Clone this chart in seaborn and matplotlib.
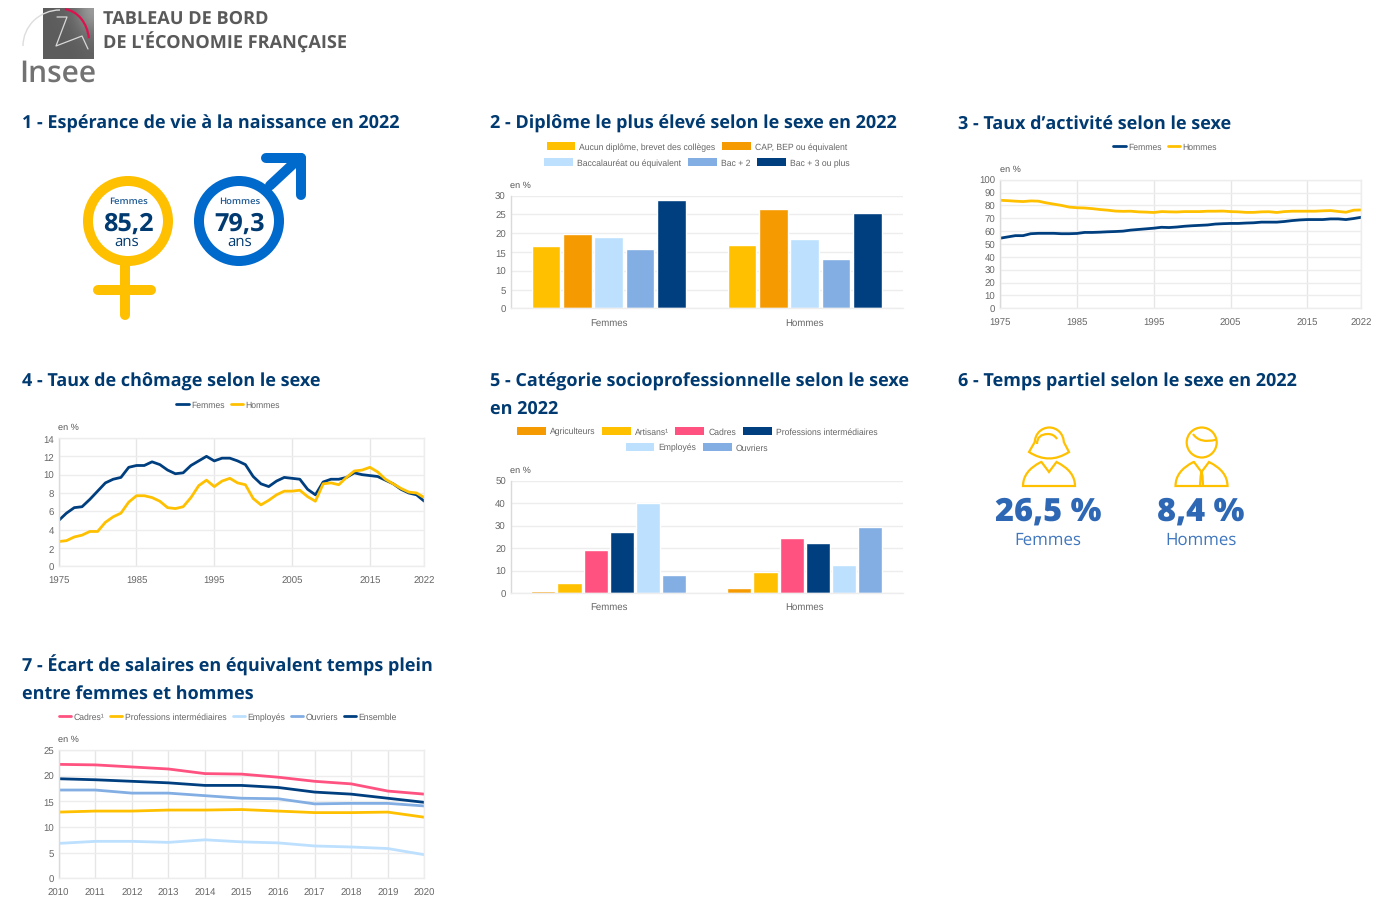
import numpy as np
import pandas as pd
import matplotlib
matplotlib.use("Agg")
import matplotlib.pyplot as plt
import seaborn as sns
from matplotlib.patches import Circle, PathPatch, Rectangle, Arc
from matplotlib.path import Path
from matplotlib.lines import Line2D

# ---------- data ----------
sexes = ["Femmes", "Hommes"]

dipl_labels = ["Aucun diplôme, brevet des collèges", "CAP, BEP ou équivalent",
               "Baccalauréat ou équivalent", "Bac + 2", "Bac + 3 ou plus"]
dipl_f = [16.5, 19.7, 19.0, 15.9, 28.8]
dipl_h = [16.8, 26.3, 18.4, 13.0, 25.3]

csp_labels = ["Agriculteurs", "Artisans¹", "Cadres", "Professions intermédiaires",
              "Employés", "Ouvriers"]
csp_f = [1.1, 4.5, 19.0, 27.3, 40.0, 8.2]
csp_h = [2.2, 9.2, 24.3, 22.1, 12.3, 29.4]

years_long = list(range(1975, 2023))
activ_f = [54.5, 55.5, 56.5, 56.5, 58.0, 58.3, 58.3, 58.3, 58.0, 58.0,
           58.2, 59.0, 59.0, 59.2, 59.5, 59.7, 60.0, 60.8, 61.3, 61.8,
           62.3, 63.0, 62.8, 63.2, 63.8, 64.2, 64.5, 64.8, 65.5, 65.8,
           66.0, 66.0, 66.3, 66.5, 67.0, 67.0, 67.0, 67.5, 68.2, 68.7,
           69.0, 69.0, 69.0, 69.5, 69.5, 69.0, 69.8, 70.8]
activ_h = [84.0, 83.7, 83.3, 83.0, 83.5, 83.3, 82.0, 81.0, 80.0, 78.7,
           78.2, 78.0, 77.5, 76.8, 76.3, 75.6, 75.4, 75.5, 75.0, 74.8,
           74.5, 75.2, 75.0, 74.9, 75.2, 75.2, 75.2, 75.5, 75.5, 75.6,
           75.2, 75.0, 74.6, 74.6, 75.0, 75.1, 74.5, 75.2, 75.5, 75.5,
           75.5, 75.5, 75.8, 76.0, 75.3, 74.7, 76.3, 76.5]
chom_f = [5.0, 5.8, 6.4, 6.5, 7.3, 8.2, 9.1, 9.5, 9.7, 10.8,
          11.0, 11.0, 11.4, 11.1, 10.5, 10.1, 10.2, 11.0, 11.5, 12.0,
          11.5, 11.8, 11.8, 11.5, 11.1, 9.8, 9.0, 8.7, 9.3, 9.7,
          9.6, 9.5, 8.4, 7.8, 9.2, 9.5, 9.5, 9.7, 10.2, 10.0,
          9.9, 9.8, 9.4, 9.0, 8.4, 8.0, 7.8, 7.1]
chom_h = [2.7, 2.8, 3.2, 3.4, 3.8, 3.8, 4.8, 5.4, 5.8, 7.0,
          7.7, 7.7, 7.5, 7.1, 6.4, 6.3, 6.5, 7.5, 8.8, 9.4,
          8.7, 9.3, 9.6, 9.1, 8.9, 7.4, 6.7, 7.2, 7.8, 8.2,
          8.2, 8.3, 7.6, 7.1, 9.0, 9.1, 8.9, 9.7, 10.4, 10.5,
          10.8, 10.3, 9.5, 9.0, 8.5, 8.1, 8.0, 7.5]

years_sal = list(range(2010, 2021))
sal_cadres = [22.2, 22.1, 21.7, 21.3, 20.4, 20.3, 19.7, 18.9, 18.4, 17.0, 16.4]
sal_prof = [12.9, 13.1, 13.1, 13.3, 13.3, 13.4, 13.1, 12.8, 12.8, 12.9, 11.9]
sal_empl = [6.8, 7.2, 7.2, 7.0, 7.5, 7.1, 6.9, 6.3, 6.1, 5.8, 4.6]
sal_ouv = [17.2, 17.2, 16.6, 16.6, 16.1, 15.6, 15.5, 14.5, 14.6, 14.6, 14.1]
sal_ens = [19.4, 19.2, 18.9, 18.6, 18.1, 18.1, 17.7, 16.8, 16.4, 15.6, 14.8]
sal_labels = ["Cadres¹", "Professions intermédiaires", "Employés", "Ouvriers", "Ensemble"]

esp_vals = ["85,2", "79,3"]
partiel_vals = ["26,5 %", "8,4 %"]

# ---------- style ----------
YEL, ORA, LBL, MBL, NAVY, PINK = "#FFC000", "#F59A00", "#BDE0FF", "#82AEE3", "#003F7F", "#FF5280"
TITLE = "#003A70"
GREY = "#666666"
GRID = "#EDEDED"
sns.set_theme(style="white")
plt.rcParams["font.family"] = ["Liberation Sans", "DejaVu Sans"]
plt.rcParams["text.hinting"] = "no_hinting"
plt.rcParams["text.hinting_factor"] = 8
W, H = 1384, 912
fig = plt.figure(figsize=(W / 100, H / 100), dpi=100, facecolor="white")

px = fig.add_axes([0, 0, 1, 1], zorder=5)
px.set_xlim(0, W)
px.set_ylim(H, 0)
px.axis("off")
px.patch.set_alpha(0)
LW = 72 / 100  # points per pixel


def make_ax(x0, x1, ytop, ybot):
    ax = fig.add_axes([x0 / W, 1 - ybot / H, (x1 - x0) / W, (ybot - ytop) / H])
    ax.set_facecolor("white")
    return ax


def finish(ax, yticks, unit_xy, xgrid=False):
    ax.set_yticks(yticks)
    ax.set_ylim(yticks[0], yticks[-1])
    ax.set_xlabel("")
    ax.set_ylabel("")
    ax.grid(True, axis="y", color=GRID, lw=1.0)
    if xgrid:
        ax.grid(True, axis="x", color="#E6E6E6", lw=1.0)
    else:
        ax.grid(False, axis="x")
        ax.spines["top"].set_visible(False)
        ax.spines["right"].set_visible(False)
    ax.set_axisbelow(True)
    for s in ax.spines.values():
        s.set_color(GRID)
        s.set_linewidth(1.0)
    ax.spines["left"].set_color("#DADADA")
    ax.tick_params(axis="y", length=0, labelsize=6.9, labelcolor=GREY, pad=3.5)
    ax.tick_params(axis="x", length=0, labelsize=6.9, labelcolor=GREY, pad=6.5)
    px.text(unit_xy[0], unit_xy[1], "en %", fontsize=6.6, color="#555555", ha="left", va="center")


def legend_row(handles, labels, cx, cy, spacing=0.78, hl=3.35, pad=0.46):
    leg = fig.legend(handles, labels, loc="center", bbox_to_anchor=(cx / W, 1 - cy / H),
                     ncol=len(labels), frameon=False, fontsize=6.2, labelcolor=GREY,
                     handlelength=hl, handleheight=1.05, handletextpad=pad,
                     columnspacing=spacing, borderpad=0, borderaxespad=0)
    return leg


def box_handles(colors):
    return [Rectangle((0, 0), 1, 1, facecolor=c, edgecolor="none") for c in colors]


def line_handles(colors):
    return [Line2D([0], [0], color=c, lw=2.0) for c in colors]


def bars(x0, x1, ytop, ybot, labels, fem, hom, colors, yticks, unit_xy, gap):
    df = pd.DataFrame({
        "sexe": [sexes[0]] * len(labels) + [sexes[1]] * len(labels),
        "cat": labels * 2,
        "val": fem + hom,
    })
    ax = make_ax(x0, x1, ytop, ybot)
    sns.barplot(data=df, x="sexe", y="val", hue="cat", hue_order=labels, palette=colors,
                width=0.8, gap=gap, legend=False, saturation=1, ax=ax, errorbar=None)
    ax.set_xlim(-0.5, 1.5)
    finish(ax, yticks, unit_xy)
    return ax


def lines(x0, x1, ytop, ybot, years, series, colors, yticks, xticks, unit_xy):
    names = list(series)
    df = pd.DataFrame({
        "annee": list(years) * len(names),
        "serie": [n for n in names for _ in years],
        "val": [v for n in names for v in series[n]],
    })
    ax = make_ax(x0, x1, ytop, ybot)
    sns.lineplot(data=df, x="annee", y="val", hue="serie", hue_order=names, palette=colors,
                 lw=2.0, legend=False, ax=ax, errorbar=None, estimator=None)
    ax.set_xlim(years[0], years[-1])
    ax.set_xticks(xticks)
    finish(ax, yticks, unit_xy, xgrid=True)
    return ax


# ---------- charts ----------
bars(510.7, 902.7, 196.5, 309.3, dipl_labels, dipl_f, dipl_h, [YEL, ORA, LBL, MBL, NAVY],
     [0, 5, 10, 15, 20, 25, 30], (510.5, 185.5), 0.083)
h = box_handles([YEL, ORA, LBL, MBL, NAVY])
legend_row(h[:2], dipl_labels[:2], 697, 147.5)
legend_row(h[2:], dipl_labels[2:], 697, 163.5)

lines(1000, 1361.3, 180.7, 309.3, years_long, {"Femmes": activ_f, "Hommes": activ_h}, [NAVY, YEL],
      list(range(0, 101, 10)), [1975, 1985, 1995, 2005, 2015, 2022], (1000, 170))
legend_row(line_handles([NAVY, YEL]), sexes, 1165, 147.5, hl=1.4, pad=0.28, spacing=0.7)

lines(58.7, 424.3, 439, 567.3, years_long, {"Femmes": chom_f, "Hommes": chom_h}, [NAVY, YEL],
      list(range(0, 15, 2)), [1975, 1985, 1995, 2005, 2015, 2022], (58.5, 428))
legend_row(line_handles([NAVY, YEL]), sexes, 228, 405.5, hl=1.4, pad=0.28, spacing=0.7)

bars(510.7, 902.7, 481.7, 594, csp_labels, csp_f, csp_h, [ORA, YEL, PINK, NAVY, LBL, MBL],
     [0, 10, 20, 30, 40, 50], (510.5, 470.5), 0.08)
h = box_handles([ORA, YEL, PINK, NAVY, LBL, MBL])
legend_row(h[:4], csp_labels[:4], 697, 432)
legend_row(h[4:], csp_labels[4:], 697, 448)

lines(58.7, 424.3, 751, 879.3, years_sal,
      dict(zip(sal_labels, [sal_cadres, sal_prof, sal_empl, sal_ouv, sal_ens])),
      [PINK, YEL, LBL, MBL, NAVY], [0, 5, 10, 15, 20, 25], years_sal, (58.5, 740))
legend_row(line_handles([PINK, YEL, LBL, MBL, NAVY]), sal_labels, 228, 717.5, hl=1.4, pad=0.28, spacing=0.7)

# ---------- titles ----------
TF = ["Open Sans", "DejaVu Sans"]
titles = [
    (22, 129, "1 - Espérance de vie à la naissance en 2022"),
    (490, 129, "2 - Diplôme le plus élevé selon le sexe en 2022"),
    (958, 129, "3 - Taux d’activité selon le sexe"),
    (22, 387, "4 - Taux de chômage selon le sexe"),
    (490, 387, "5 - Catégorie socioprofessionnelle selon le sexe"),
    (490, 414, "en 2022"),
    (958, 387, "6 - Temps partiel selon le sexe en 2022"),
    (22, 672, "7 - Écart de salaires en équivalent temps plein"),
    (22, 699, "entre femmes et hommes"),
]
for x, y, t in titles:
    px.text(x, y, t, family=TF, fontsize=13.0, fontweight="bold", color=TITLE, ha="left", va="baseline")

px.text(103, 24, "TABLEAU DE BORD", family=TF, fontsize=13.1, fontweight="bold", color="#5A5A5A", va="baseline")
px.text(103, 49, "DE L'ÉCONOMIE FRANÇAISE", family=TF, fontsize=13.1, fontweight="bold", color="#5A5A5A", va="baseline")

# ---------- logo ----------
grad = np.array([[0.36, 0.38, 0.42, 0.62], [0.36, 0.36, 0.38, 0.45], [0.36, 0.36, 0.36, 0.38]])
px.imshow(grad, cmap="gray", vmin=0, vmax=1, extent=(43, 94, 60, 9), aspect="auto",
          interpolation="bicubic", zorder=1)
px.set_xlim(0, W)
px.set_ylim(H, 0)
px.add_patch(Arc((62, 43), 54, 66, theta1=-85, theta2=-8, color="#E0104F", lw=1.6, zorder=3))
px.add_patch(Arc((60, 47), 74, 72, theta1=180, theta2=270, color="#DDDDDD", lw=1.0, zorder=2))
px.plot([57, 67, 56, 82, 88], [18, 18, 47, 37, 50], color="#D8D8D8", lw=0.9, zorder=3)
px.text(58, 81.7, "Insee", family=TF, fontsize=21.5, fontweight="semibold", color="#727272",
        ha="center", va="baseline", zorder=4)

# ---------- section 1 icons ----------
BLUE = "#0069CC"
cap = dict(solid_capstyle="round", lw=10 * LW)
px.add_patch(Circle((128, 222), 40, fill=False, ec=YEL, lw=10 * LW))
px.plot([125, 125], [266, 316], color=YEL, **cap)
px.plot([98, 151], [290.5, 290.5], color=YEL, **cap)
px.add_patch(Circle((239, 222), 40, fill=False, ec=BLUE, lw=10 * LW))
px.plot([270, 299], [186.5, 159.5], color=BLUE, **cap)
px.plot([266, 301], [158.5, 158.5], color=BLUE, **cap)
px.plot([301, 301], [158.5, 195.5], color=BLUE, **cap)
for x, name, v, dx in [(128, sexes[0], esp_vals[0], -1), (239.5, sexes[1], esp_vals[1], 0)]:
    px.text(x, 204.3, name, family=TF, fontsize=6.8, fontweight="semibold", color="#1F5A96", ha="center", va="baseline")
    px.text(x, 230.5, v, family=TF, fontsize=18.2, fontweight="bold", color=TITLE, ha="center", va="baseline")
    px.text(x + dx, 246, "ans", family=TF, fontsize=10.8, color=TITLE, ha="center", va="baseline")


# ---------- section 6 icons ----------
def body(cx):
    verts = [(cx - 26, 487), (cx - 26, 472), (cx - 8, 463), (cx - 7.5, 463),
             (cx, 473), (cx + 7.5, 463), (cx + 26, 472), (cx + 26, 487), (cx - 26, 487)]
    codes = [Path.MOVETO, Path.CURVE3, Path.CURVE3, Path.LINETO, Path.LINETO, Path.LINETO,
             Path.CURVE3, Path.CURVE3, Path.CLOSEPOLY]
    px.add_patch(PathPatch(Path(verts, codes), fill=False, ec=YEL, lw=1.6))


def stroke(points, codes):
    px.add_patch(PathPatch(Path(points, codes), fill=False, ec=YEL, lw=1.6))


M, L, Q = Path.MOVETO, Path.LINETO, Path.CURVE3
body(1049)
px.add_patch(Arc((1049.3, 443.5), 29, 30, theta1=180, theta2=360, color=YEL, lw=1.6))
stroke([(1034.8, 443), (1029, 453), (1049, 466), (1069, 453), (1063.8, 443)], [M, L, Q, Q, L])
stroke([(1037, 445), (1037, 435), (1048, 435), (1054, 435), (1057, 440)], [M, Q, Q, Q, Q])

body(1201.5)
px.add_patch(Circle((1201.7, 443.5), 15, fill=False, ec=YEL, lw=1.6))
stroke([(1193, 435), (1200, 445), (1216, 440.7)], [M, Q, Q])
stroke([(1200, 487), (1200.7, 476.7), (1201.5, 473), (1202.5, 476.7), (1203, 487)], [M, L, L, L, L])

for x, v, name in [(1048, partiel_vals[0], sexes[0]), (1201, partiel_vals[1], sexes[1])]:
    px.text(x, 521, v, family=TF, fontsize=23.4, fontweight="heavy", color="#2E68B5", ha="center", va="baseline")
    px.text(x, 545, name, family=TF, fontsize=12.2, color="#3F76BE", ha="center", va="baseline")

fig.savefig("out.png", dpi=100, facecolor="white")
